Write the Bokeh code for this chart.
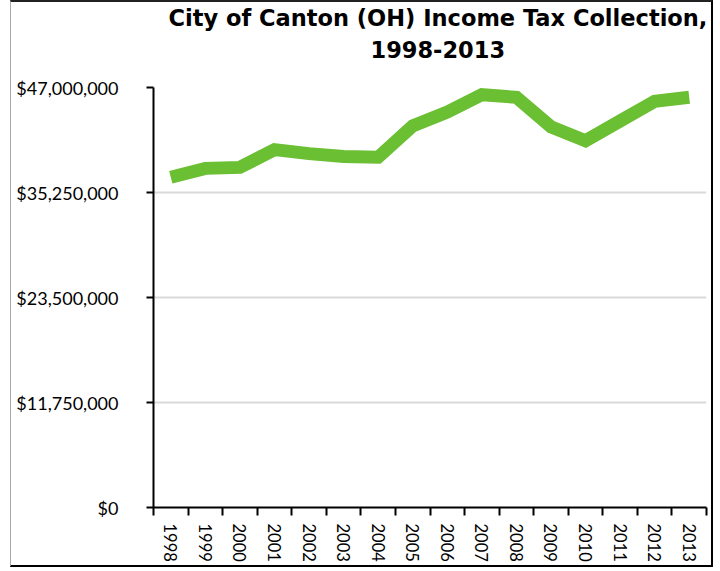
from bokeh.plotting import figure
from bokeh.models import FixedTicker, NumeralTickFormatter, Range1d, ColumnDataSource, Title
from bokeh.embed import file_html
from bokeh.resources import INLINE

years = ["1998", "1999", "2000", "2001", "2002", "2003", "2004", "2005",
         "2006", "2007", "2008", "2009", "2010", "2011", "2012", "2013"]
collections = [36960000, 37950000, 38060000, 40050000, 39600000, 39280000,
               39200000, 42700000, 44240000, 46200000, 45900000, 42600000,
               41040000, 43250000, 45450000, 45900000]
y_ticks = [0, 11750000, 23500000, 35250000, 47000000]
title_lines = ["City of Canton (OH) Income Tax Collection,", "1998-2013"]

idx = list(range(len(years)))
src = ColumnDataSource(dict(x=idx, y=collections))

p = figure(width=700, height=563, output_backend="svg", toolbar_location=None,
           x_range=Range1d(-0.5, len(years) - 0.5), y_range=Range1d(0, 47000000),
           min_border_left=142, min_border_right=8, min_border_bottom=62,
           min_border_top=81, background_fill_color="white", border_fill_color="white",
           outline_line_color=None)

p.styles = {"margin-left": "10px", "box-sizing": "content-box",
            "border-top": "2px solid #222222", "border-right": "2px solid #000000",
            "border-bottom": "2px solid #000000", "border-left": "1px solid #aaaaaa"}

spacer_low = Title(text=" ", text_font_size="25px", standoff=0)
t2 = Title(text=title_lines[1], align="left", text_font="DejaVu Sans",
           text_font_style="bold", text_font_size="22.5px", text_color="black",
           standoff=0, offset=217)
spacer_mid = Title(text=" ", text_font_size="5px", standoff=0)
t1 = Title(text=title_lines[0], align="left", text_font="DejaVu Sans",
           text_font_style="bold", text_font_size="22.5px", text_color="black",
           text_line_height=0.85, standoff=0, offset=15)
p.add_layout(spacer_low, "above")
p.add_layout(t2, "above")
p.add_layout(spacer_mid, "above")
p.add_layout(t1, "above")

p.line("x", "y", source=src, line_color="#6bbf33", line_width=13, line_join="miter")

# y axis
p.yaxis.ticker = FixedTicker(ticks=y_ticks)
p.yaxis.formatter = NumeralTickFormatter(format="$0,0")
p.yaxis.axis_line_color = "black"
p.yaxis.axis_line_width = 2
p.yaxis.major_tick_out = 7
p.yaxis.major_tick_in = 0
p.yaxis.major_tick_line_width = 2
p.yaxis.major_tick_line_color = "black"
p.yaxis.minor_tick_line_color = None
p.yaxis.major_label_standoff = 28
p.yaxis.major_label_text_font = "Lato"
p.yaxis.major_label_text_font_size = "18px"
p.yaxis.major_label_text_color = "black"

# x axis
p.xaxis.ticker = FixedTicker(ticks=idx, minor_ticks=[i - 0.5 for i in range(len(years) + 1)])
p.xaxis.major_label_overrides = {i: y for i, y in zip(idx, years)}
p.xaxis.major_label_orientation = "vertical"
p.xaxis.axis_line_color = "black"
p.xaxis.axis_line_width = 2
p.xaxis.major_tick_line_color = None
p.xaxis.major_tick_out = 0
p.xaxis.major_tick_in = 0
p.xaxis.minor_tick_out = 8
p.xaxis.minor_tick_in = 0
p.xaxis.minor_tick_line_width = 2
p.xaxis.minor_tick_line_color = "black"
p.xaxis.major_label_standoff = 8
p.xaxis.major_label_text_font = "Lato"
p.xaxis.major_label_text_font_size = "16.5px"
p.xaxis.major_label_text_color = "black"

p.xgrid.grid_line_color = None
p.ygrid.grid_line_color = "#d9d9d9"
p.ygrid.grid_line_width = 2

open("out.html", "w").write(file_html(p, INLINE))
